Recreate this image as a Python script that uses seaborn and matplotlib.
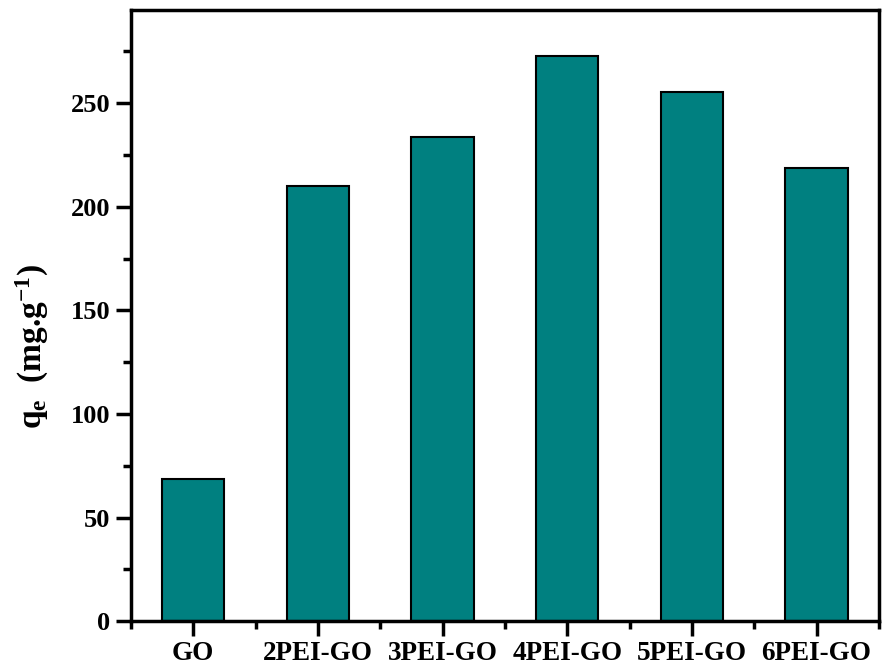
import numpy as np
import pandas as pd
import matplotlib
matplotlib.use("Agg")
import matplotlib.pyplot as plt
import seaborn as sns
from matplotlib.ticker import MultipleLocator

# data
samples = ["GO", "2PEI-GO", "3PEI-GO", "4PEI-GO", "5PEI-GO", "6PEI-GO"]
qe = [68.5, 210, 233.5, 273, 255.5, 218.8]

df = pd.DataFrame({"Sample": samples, "qe": qe})

sns.set_style("ticks")
plt.rcParams["font.family"] = ["Liberation Serif", "DejaVu Serif"]
plt.rcParams["font.weight"] = "bold"
plt.rcParams["mathtext.default"] = "regular"
plt.rcParams["text.color"] = "black"
plt.rcParams["axes.labelcolor"] = "black"
plt.rcParams["xtick.color"] = "black"
plt.rcParams["ytick.color"] = "black"
plt.rcParams["axes.edgecolor"] = "black"

fig = plt.figure(figsize=(8.82, 6.70), dpi=100)
ax = fig.add_axes([0.1485, 0.073, 0.848, 0.912])

sns.barplot(data=df, x="Sample", y="qe", color="#008080", width=0.5,
            edgecolor="black", linewidth=1.5, saturation=1, ax=ax)

ax.set_xlim(-0.5, 5.5)
ax.set_ylim(0, 295)
ax.yaxis.set_major_locator(MultipleLocator(50))
ax.yaxis.set_minor_locator(MultipleLocator(25))
ax.set_xticks(np.arange(-0.5, 6, 1), minor=True)

for s in ax.spines.values():
    s.set_linewidth(2.5)
    s.set_visible(True)
    s.set_color("black")

ax.tick_params(axis="both", which="major", direction="out", length=11, width=2.5,
               labelsize=19, pad=4)
ax.tick_params(axis="both", which="minor", direction="out", length=6, width=2.5)
ax.tick_params(axis="x", which="major", pad=3, labelsize=19.5)

for lab in ax.get_xticklabels() + ax.get_yticklabels():
    lab.set_fontweight("bold")

ax.set_xlabel("")
ax.set_ylabel("q$_e$  (mg.g$^{-1}$)", fontsize=24, fontweight="bold")
ax.yaxis.set_label_coords(-0.107, 0.45)

fig.savefig("out.png", dpi=100)
